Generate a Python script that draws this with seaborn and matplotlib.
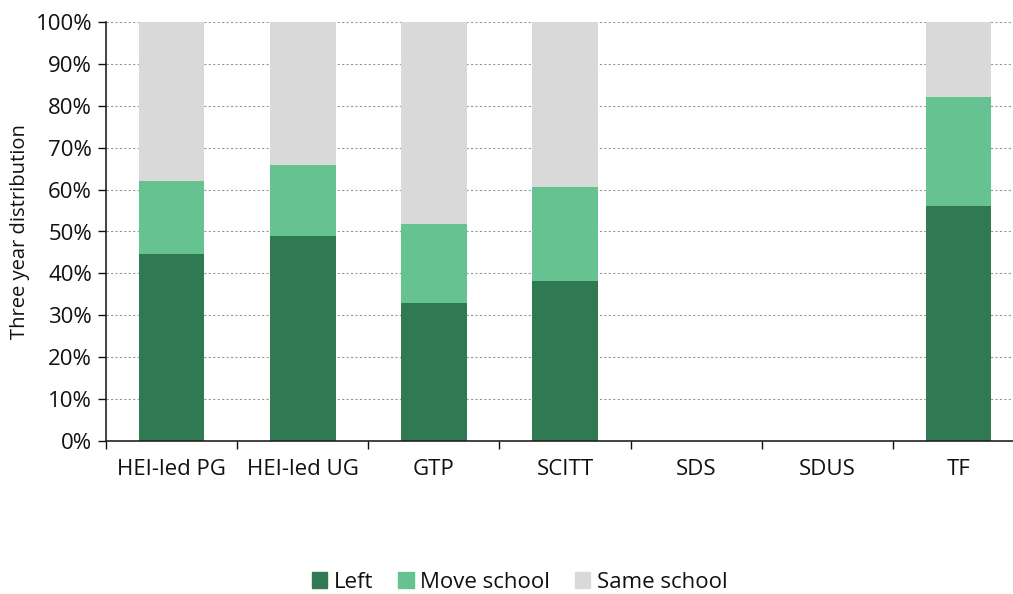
import numpy as np
import pandas as pd
import matplotlib
matplotlib.use('Agg')
import matplotlib.pyplot as plt
import seaborn as sns
from matplotlib.patches import Patch
from matplotlib.ticker import FixedLocator

# data
routes = ['HEI-led PG', 'HEI-led UG', 'GTP', 'SCITT', 'SDS', 'SDUS', 'TF']
left = [44.7, 48.9, 32.9, 38.1, 0, 0, 56.1]
move_school = [17.3, 16.9, 18.9, 22.5, 0, 0, 26.0]
same_school = [38.0, 34.2, 48.2, 39.4, 0, 0, 17.9]

c_left = '#2f7a52'
c_move = '#66c391'
c_same = '#d9d9d9'

df = pd.DataFrame({'Route': routes, 'Left': left, 'Move school': move_school, 'Same school': same_school})
df['c1'] = df['Left']
df['c2'] = df['Left'] + df['Move school']
df['c3'] = df['c2'] + df['Same school']

sns.set_style('white')
plt.rcParams['font.family'] = ['Open Sans', 'DejaVu Sans']
plt.rcParams['text.color'] = '#111111'
plt.rcParams['xtick.color'] = '#111111'
plt.rcParams['ytick.color'] = '#111111'
plt.rcParams['axes.labelcolor'] = '#111111'

fig = plt.figure(figsize=(10.13, 5.94), dpi=100)
ax = fig.add_axes([106 / 1013, 1 - 441 / 594, 918 / 1013, 419 / 594])

# stacked bars drawn as cumulative totals, back to front
for col, c in [('c3', c_same), ('c2', c_move), ('c1', c_left)]:
    sns.barplot(data=df, x='Route', y=col, color=c, width=0.5, saturation=1, ax=ax,
                zorder=2, linewidth=0, edgecolor=c)

ax.set_ylim(0, 100)
ax.set_xlim(-0.5, 6.5)
ax.set_yticks(np.arange(0, 101, 10))
ax.set_yticklabels([f'{v}%' for v in range(0, 101, 10)], fontsize=16)
ax.set_xticks(range(len(routes)))
ax.set_xticklabels(routes, fontsize=16)
ax.xaxis.set_minor_locator(FixedLocator(np.arange(-0.5, 6.6, 1)))
ax.tick_params(axis='x', which='major', length=0, pad=13)
ax.tick_params(axis='x', which='minor', length=6, width=1, direction='out', bottom=True)
ax.tick_params(axis='y', length=6, width=1, direction='out', left=True, pad=4)
ax.set_xlabel('')
ax.set_ylabel('Three year distribution', fontsize=14.5, labelpad=4)

ax.yaxis.grid(True, linestyle=(0, (2, 2)), color='#999999', linewidth=0.8, zorder=0)
ax.set_axisbelow(True)
for s in ['top', 'right']:
    ax.spines[s].set_visible(False)
for s in ['left', 'bottom']:
    ax.spines[s].set_color('#222222')
    ax.spines[s].set_linewidth(1.2)

handles = [Patch(color=c_left, label='Left'), Patch(color=c_move, label='Move school'),
           Patch(color=c_same, label='Same school')]
fig.legend(handles=handles, loc='center', bbox_to_anchor=(0.513, 1 - 582 / 594), ncol=3,
           frameon=False, fontsize=16, handlelength=0.7, handleheight=0.7, handletextpad=0.3,
           columnspacing=1.1)

fig.savefig('out.png', dpi=100)
